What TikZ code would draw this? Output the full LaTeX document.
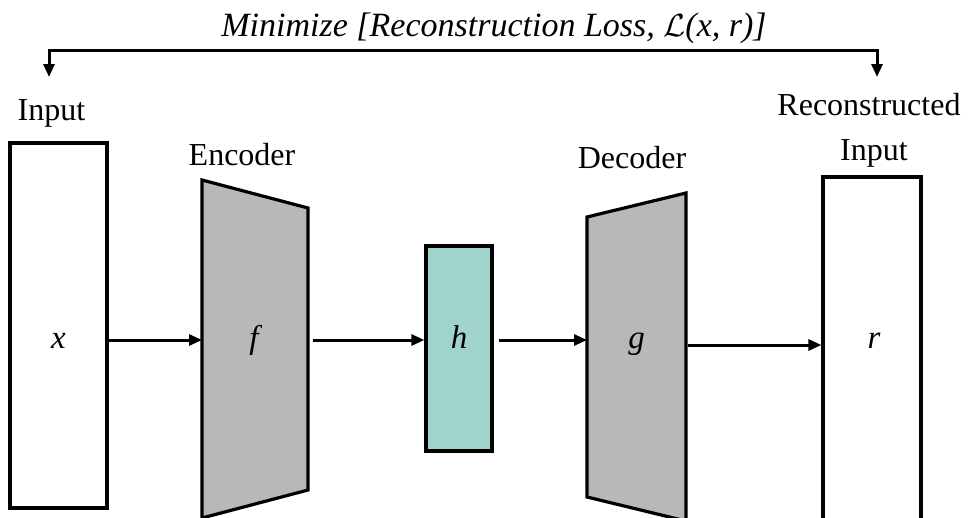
\documentclass[tikz,border=0pt]{standalone}
\usepackage{fontspec}
\setmainfont{Liberation Serif}
\usetikzlibrary{arrows.meta,calc}
\definecolor{codegray}{HTML}{B8B8B8}
\definecolor{latentteal}{HTML}{9FD3CB}
% math letter set at 10pt and scaled up, so the size does not depend on font substitution
\newcommand\bigmath[2]{\scalebox{#1}{\normalsize$#2$}}
\begin{document}
\begin{tikzpicture}[x=1pt,y=-1pt,
  lbl/.style={font=\fontsize{32}{38}\selectfont, inner sep=0pt, anchor=base},
  titlelbl/.style={font=\fontsize{34}{40}\selectfont\itshape, inner sep=0pt, anchor=base},
  sym/.style={font=\fontsize{33}{38}\selectfont\itshape, inner sep=0pt, anchor=base},
  frame/.style={draw, line width=3.2pt, line join=miter, inner sep=0pt},
  region/.style={inner sep=0pt, outer sep=0pt},
  flow/.style={line width=3pt, -{Triangle[length=13pt,width=11pt]}},
]
\useasboundingbox (0,0) rectangle (968,517);

% input, latent code and reconstruction boxes
\node[frame, fill=white, minimum width=97pt, minimum height=365pt] (inp) at (58.5,325.5) {};
\node[frame, fill=latentteal, minimum width=66pt, minimum height=205pt] (code) at (459,348.5) {};
\node[frame, fill=white, minimum width=98pt, minimum height=383pt] (rec) at (872,368.5) {};

% encoder and decoder trapezoids (regions give the outer extent)
\node[region, minimum width=106pt, minimum height=338pt] (enc) at (255,349) {};
\node[region, minimum width=99pt, minimum height=328pt] (dec) at (636.5,357) {};
\draw[frame, fill=codegray] (enc.north west) -- ($(enc.north east)+(0,28)$)
  -- ($(enc.south east)+(0,-28)$) -- (enc.south west) -- cycle;
\draw[frame, fill=codegray] ($(dec.north west)+(0,24)$) -- (dec.north east)
  -- (dec.south east) -- ($(dec.south west)+(0,-24)$) -- cycle;

% symbols inside the shapes
\coordinate (base) at (0,348);
\node[sym] (xs) at (inp.center |- base) {x};
\node[sym] (fs) at ($(enc.center |- base)+(-1,0)$) {f};
\node[sym] (hs) at (code.center |- base) {h};
\node[sym] (gs) at (dec.center |- base) {g};
\node[sym] (rs) at ($(rec.center |- base)+(2,0)$) {r};

% captions
\node[lbl] (inpcap) at ($(inp.north)+(-7,-21)$) {Input};
\node[lbl] (enccap) at ($(enc.north)+(-13,-15)$) {Encoder};
\node[lbl] (deccap) at ($(dec.north)+(-4.5,-25)$) {Decoder};
\node[lbl] (reccap2) at ($(rec.north)+(2,-15)$) {Input};
\node[lbl] (reccap1) at ($(reccap2.base)+(-5,-45)$) {Reconstructed};

% data flow
\coordinate (axis) at (0,340);
\coordinate (axisb) at (0,345);
\draw[flow] (inp.east |- axis) -- (enc.west |- axis);
\draw[flow, shorten <=5pt] (enc.east |- axis) -- (code.west |- axis);
\draw[flow, shorten <=5pt] (code.east |- axis) -- (dec.west |- axis);
\draw[flow, shorten <=2pt] (dec.east |- axisb) -- (rec.west |- axisb);

% reconstruction objective
\node[titlelbl] (loss) at (494,36) {Minimize [Reconstruction Loss, \bigmath{3.2}{\mathcal{L}}(x, r)]};
\coordinate (bl) at (49,50);
\coordinate (br) at (877,50);
\coordinate (blt) at (49,77);
\coordinate (brt) at (877,77);
\draw[line width=3pt, {Triangle[length=13pt,width=11pt]}-{Triangle[length=13pt,width=11pt]}, line join=miter]
  (blt) -- (bl) -- (br) -- (brt);
\end{tikzpicture}
\end{document}
